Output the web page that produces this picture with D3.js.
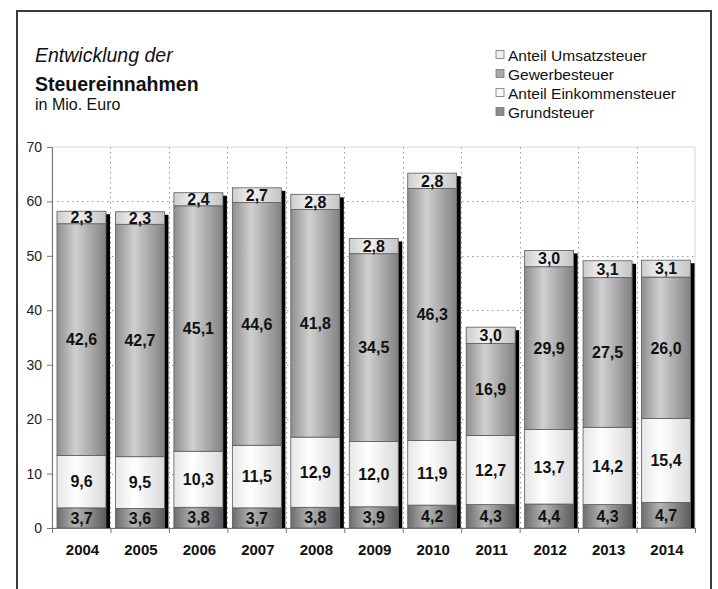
<!DOCTYPE html>
<html><head><meta charset="utf-8">
<script src="https://cdn.jsdelivr.net/npm/d3@7"></script>
<style>
html,body{margin:0;padding:0;background:#fff;}
svg{display:block;font-family:"Liberation Sans",Arial,sans-serif;}
</style></head>
<body><svg id="c" width="718" height="589"></svg>
<script>
const years = ["2004","2005","2006","2007","2008","2009","2010","2011","2012","2013","2014"];
const grundsteuer = [3.7,3.6,3.8,3.7,3.8,3.9,4.2,4.3,4.4,4.3,4.7];
const einkommensteuer = [9.6,9.5,10.3,11.5,12.9,12.0,11.9,12.7,13.7,14.2,15.4];
const gewerbesteuer = [42.6,42.7,45.1,44.6,41.8,34.5,46.3,16.9,29.9,27.5,26.0];
const umsatzsteuer = [2.3,2.3,2.4,2.7,2.8,2.8,2.8,3.0,3.0,3.1,3.1];
const seriesNames = ["Grundsteuer","Anteil Einkommensteuer","Gewerbesteuer","Anteil Umsatzsteuer"];
const yTicks = [0,10,20,30,40,50,60,70];

const svg = d3.select("#c");
const defs = svg.append("defs");
const grads = [
  ["g0", "#6c6c6c", "#b4b4b4", "#5c5c5c"],
  ["g1", "#e6e6e6", "#ffffff", "#dadada"],
  ["g2", "#8e8e8e", "#d0d0d0", "#828282"],
  ["g3", "#cccccc", "#f2f2f2", "#c4c4c4"]
];
grads.forEach(([id,a,b,c])=>{
  const g = defs.append("linearGradient").attr("id",id).attr("x1","0").attr("x2","1").attr("y1","0").attr("y2","0");
  g.append("stop").attr("offset","0").attr("stop-color",a);
  g.append("stop").attr("offset","0.38").attr("stop-color",b);
  g.append("stop").attr("offset","1").attr("stop-color",c);
});

// outer frame
svg.append("rect").attr("x",17).attr("y",11).attr("width",694).attr("height",600)
  .attr("fill","#fff").attr("stroke","#3a3a3a").attr("stroke-width",2);

const pL = 52, pR = 695, pT = 147, pB = 528;
const x = d3.scaleBand().domain(years).range([pL,pR]).padding(0);
const y = d3.scaleLinear().domain([0,70]).range([pB,pT]);

// plot border
svg.append("rect").attr("x",pL).attr("y",pT).attr("width",pR-pL).attr("height",pB-pT)
  .attr("fill","none").attr("stroke","#d8d8d8").attr("stroke-width",1);

// gridlines
svg.append("g").selectAll("line").data(yTicks.filter(t=>t>0&&t<70)).join("line")
  .attr("x1",pL).attr("x2",pR).attr("y1",d=>Math.round(y(d))+0.5).attr("y2",d=>Math.round(y(d))+0.5)
  .attr("stroke","#999").attr("stroke-width",1).attr("stroke-dasharray","1.5,3.5");
svg.append("g").selectAll("line").data(years.slice(1)).join("line")
  .attr("x1",d=>Math.round(x(d))+0.5).attr("x2",d=>Math.round(x(d))+0.5).attr("y1",pT).attr("y2",pB)
  .attr("stroke","#999").attr("stroke-width",1).attr("stroke-dasharray","1.5,3.5");

// stack
const rows = years.map((yr,i)=>({year:yr, s0:grundsteuer[i], s1:einkommensteuer[i], s2:gewerbesteuer[i], s3:umsatzsteuer[i]}));
const stack = d3.stack().keys(["s0","s1","s2","s3"])(rows);

const bw = x.bandwidth();
const faceOff = 5, faceW = 49, shadowW = 4;

// shadows
svg.append("g").selectAll("rect").data(rows).join("rect")
  .attr("x",d=>x(d.year)+faceOff+faceW)
  .attr("y",d=>y(d.s0+d.s1+d.s2+d.s3)+3)
  .attr("width",shadowW)
  .attr("height",d=>pB-(y(d.s0+d.s1+d.s2+d.s3)+3))
  .attr("fill","#000");

stack.forEach((layer,li)=>{
  const g = svg.append("g");
  g.selectAll("rect").data(layer).join("rect")
    .attr("x",d=>x(d.data.year)+faceOff)
    .attr("y",d=>y(d[1]))
    .attr("width",faceW)
    .attr("height",d=>y(d[0])-y(d[1]))
    .attr("fill",`url(#g${li})`)
    .attr("stroke","#5a5a5a").attr("stroke-width",0.8);
});

stack.forEach((layer,li)=>{
  svg.append("g").selectAll("text").data(layer).join("text")
    .attr("x",d=>x(d.data.year)+faceOff+faceW/2)
    .attr("y",d=>(y(d[0])+y(d[1]))/2)
    .attr("dy","0.36em")
    .attr("text-anchor","middle")
    .attr("font-weight","bold").attr("font-size","16px").attr("fill","#111")
    .text(d=>d3.format(".1f")(d[1]-d[0]).replace(".",","));
});

// axes
const yAxis = d3.axisLeft(y).tickValues(yTicks).tickSize(5).tickPadding(5);
const ya = svg.append("g").attr("transform",`translate(${pL},0)`).call(yAxis);
ya.select(".domain").attr("stroke","#777");
ya.selectAll(".tick line").attr("stroke","#777");
ya.selectAll("text").attr("font-size","14px").attr("fill","#222").attr("font-family","Liberation Sans, Arial, sans-serif");

const xa = svg.append("g").attr("transform",`translate(0,${pB})`);
xa.append("line").attr("x1",pL).attr("x2",pR).attr("y1",0.5).attr("y2",0.5).attr("stroke","#777");
xa.selectAll("line.t").data(years.concat(["end"])).join("line").attr("class","t")
  .attr("x1",(d,i)=>pL+i*bw+0.5).attr("x2",(d,i)=>pL+i*bw+0.5).attr("y1",0).attr("y2",5).attr("stroke","#777");
xa.selectAll("text").data(years).join("text")
  .attr("x",d=>x(d)+faceOff+faceW/2+1).attr("y",27)
  .attr("text-anchor","middle").attr("font-weight","bold").attr("font-size","15px").attr("fill","#111")
  .text(d=>d);

// titles
svg.append("text").attr("x",35).attr("y",62).attr("font-style","italic").attr("font-size","19.5px").attr("fill","#111").text("Entwicklung der");
svg.append("text").attr("x",35).attr("y",91).attr("font-weight","bold").attr("font-size","19.5px").attr("fill","#111").text("Steuereinnahmen");
svg.append("text").attr("x",35).attr("y",110).attr("font-size","16px").attr("fill","#111").text("in Mio. Euro");

// legend
const legendItems = [seriesNames[3],seriesNames[2],seriesNames[1],seriesNames[0]];
const legendFill = ["#eeeeee","#a8a8a8","#f6f6f6","#8c8c8c"];
const lg = svg.append("g");
legendItems.forEach((name,i)=>{
  const yy = 55 + i*19;
  lg.append("rect").attr("x",496).attr("y",yy-4.5).attr("width",8).attr("height",8)
    .attr("fill",legendFill[i]).attr("stroke","#777").attr("stroke-width",0.8);
  lg.append("text").attr("x",508).attr("y",yy).attr("dy","0.36em").attr("font-size","15.5px").attr("fill","#111").text(name);
});
</script></body></html>
